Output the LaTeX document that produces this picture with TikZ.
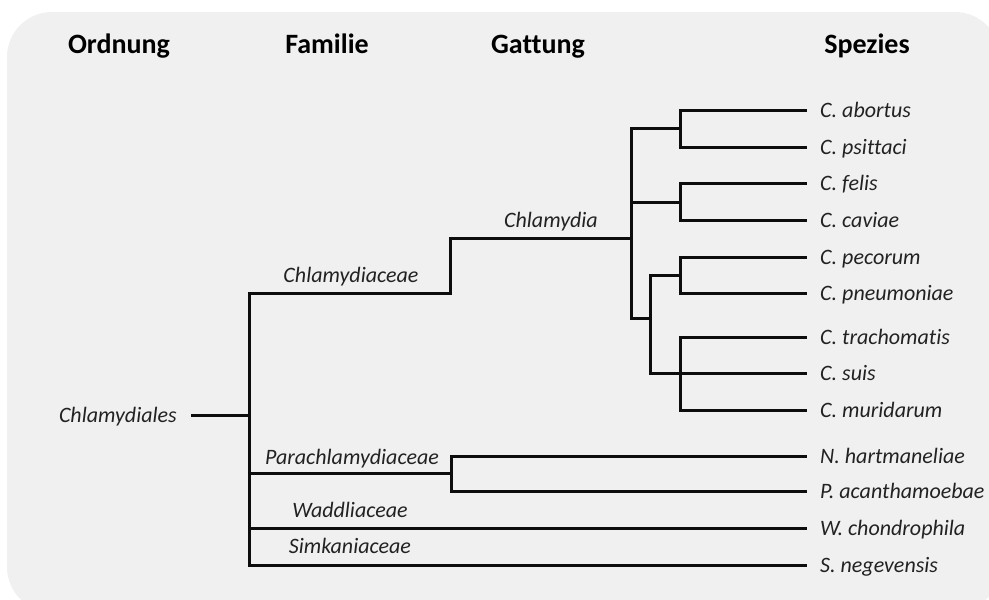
\documentclass[tikz,border=0pt]{standalone}
\usepackage{fontspec}
\setmainfont{Carlito}[Ligatures=NoCommon]
\definecolor{bggray}{HTML}{F0F0F0}
\definecolor{txtgray}{HTML}{222222}
\begin{document}
\begin{tikzpicture}[x=1pt,y=-1pt,
  ln/.style={line width=3pt,black!95,line cap=rect},
  head/.style={font=\fontsize{28}{32}\selectfont\bfseries,text=black,inner sep=0pt,text height=18pt,text depth=0pt},
  sp/.style={font=\fontsize{22}{26}\selectfont\itshape,text=txtgray,anchor=west,inner xsep=15pt,inner ysep=0pt,text height=14pt,text depth=0pt},
  fam/.style={font=\fontsize{22}{26}\selectfont\itshape,text=txtgray,inner sep=0pt,text height=14pt,text depth=0pt}]
\useasboundingbox (0,0) rectangle (989,600);
\fill[bggray,rounded corners=45pt] (7,12) rectangle (1000,612);

% headers
\node[head] (hO) at (119,44) {Ordnung};
\node[head] (hF) at (327,44) {Familie};
\node[head] (hG) at (538,44) {Gattung};
\node[head] (hS) at (867,44) {Spezies};

% species labels
\node[sp] (abortus) at (805,110) {C. abortus};
\node[sp] (psittaci) at (805,147) {C. psittaci};
\node[sp] (felis) at (805,183) {C. felis};
\node[sp] (caviae) at (805,220) {C. caviae};
\node[sp] (pecorum) at (805,257) {C. pecorum};
\node[sp] (pneum) at (805,293) {C. pneumoniae};
\node[sp] (trach) at (805,337) {C. trachomatis};
\node[sp] (suis) at (805,373) {C. suis};
\node[sp] (murid) at (805,410) {C. muridarum};
\node[sp] (hart) at (805,456) {N. hartmaneliae};
\node[sp] (acanth) at (805,491) {P. acanthamoebae};
\node[sp] (wchond) at (805,528) {W. chondrophila};
\node[sp] (sneg) at (805,565) {S. negevensis};

% order label
\node[sp,anchor=east] (ord) at (192,415) {Chlamydiales};

% family / genus labels
\node[fam] (lChl) at (351,275) {Chlamydiaceae};
\node[fam] (lGen) at (551,220) {Chlamydia};
\node[fam] (lPara) at (352,457) {Parachlamydiaceae};
\node[fam] (lWadd) at (350,510) {Waddliaceae};
\node[fam] (lSim) at (350,546) {Simkaniaceae};

% junction coordinates
\coordinate (R1) at (249,293);
\coordinate (Rm) at (249,415);
\coordinate (R3) at (249,473);
\coordinate (R4) at (249,528);
\coordinate (R2) at (249,565);
\coordinate (F1) at (450,238);
\coordinate (G) at (631,238);
\coordinate (Gt) at (631,128);
\coordinate (Gm) at (631,202);
\coordinate (Gb) at (631,318);
\coordinate (A) at (680,128);
\coordinate (B) at (680,202);
\coordinate (CD) at (650,318);
\coordinate (C) at (680,275);
\coordinate (D) at (680,373);
\coordinate (P) at (451,473);

% tree
\draw[ln] (ord) -- (Rm);
\draw[ln] (R1) -- (R2);
\draw[ln] (R1) -| (F1) -- (G);
\draw[ln] (Gt) -- (Gb);
\draw[ln] (Gt) -- (A);
\draw[ln] (A) |- (abortus);
\draw[ln] (A) |- (psittaci);
\draw[ln] (Gm) -- (B);
\draw[ln] (B) |- (felis);
\draw[ln] (B) |- (caviae);
\draw[ln] (Gb) -- (CD);
\draw[ln] (CD) |- (C);
\draw[ln] (CD) |- (D);
\draw[ln] (C) |- (pecorum);
\draw[ln] (C) |- (pneum);
\draw[ln] (D) |- (trach);
\draw[ln] (D) |- (suis);
\draw[ln] (D) |- (murid);
\draw[ln] (R3) -- (P);
\draw[ln] (P) |- (hart);
\draw[ln] (P) |- (acanth);
\draw[ln] (R4) -- (wchond);
\draw[ln] (R2) -- (sneg);
\end{tikzpicture}
\end{document}
